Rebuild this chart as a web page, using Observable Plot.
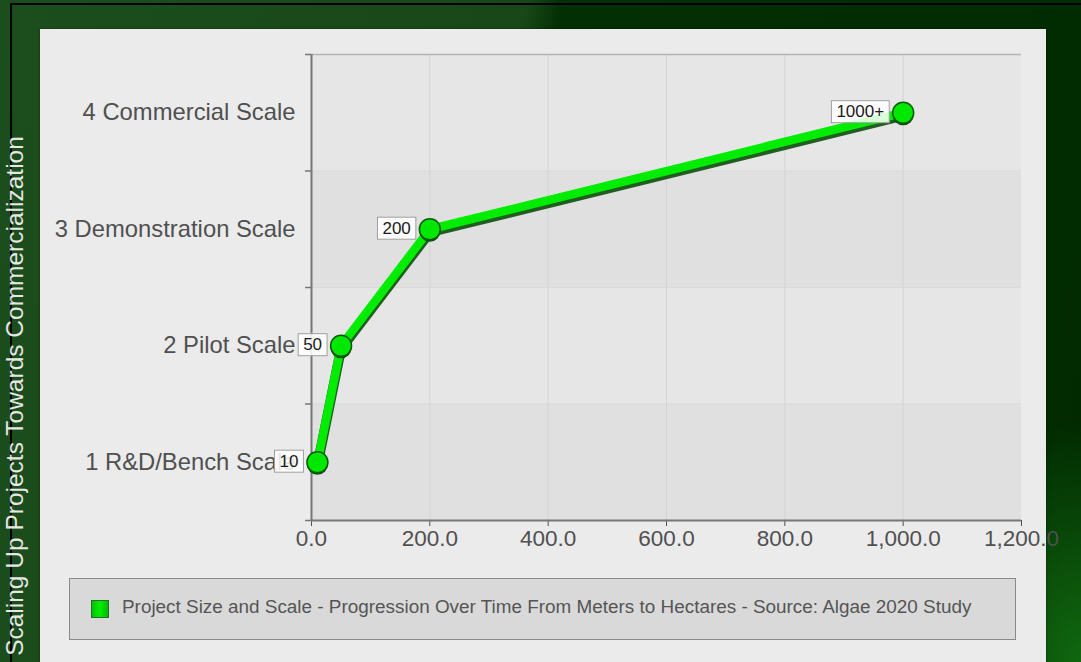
<!DOCTYPE html>
<html>
<head>
<meta charset="utf-8">
<script src="https://cdn.jsdelivr.net/npm/d3@7"></script>
<script src="https://cdn.jsdelivr.net/npm/@observablehq/plot@0.6"></script>
<style>
  html, body { margin: 0; padding: 0; }
  body {
    width: 1081px; height: 662px; overflow: hidden; position: relative;
    font-family: "Liberation Sans", Arial, sans-serif;
    background:
      radial-gradient(ellipse 160px 240px at 1081px 662px, rgba(20,120,20,0.8), rgba(20,120,20,0) 100%),
      linear-gradient(100deg, #1c4d1c 0%, #184818 44%, #033003 47%, #012a01 100%);
  }
  #frameTop { position: absolute; left: 11px; top: 3px; width: 1070px; height: 0; border-top: 2px solid #000; }
  #frameLeft { position: absolute; left: 10px; top: 3px; width: 0; height: 659px; border-left: 2px solid #000; }
  #panel {
    position: absolute; left: 40px; top: 29px; width: 1006px; height: 660px;
    background: #ebebeb; box-shadow: 0 0 2px rgba(0,0,0,0.5);
  }
  #chart { position: absolute; left: 40px; top: 29px; }
  #chart svg { overflow: visible; display: block; }
  #ytitle {
    position: absolute; left: 15px; top: 396px; width: 700px; height: 28px;
    margin-left: -350px; margin-top: -14px;
    transform-origin: 350px 14px; transform: rotate(-90deg);
    text-align: center; color: #e6e6e6; font-size: 24.5px; line-height: 28px; white-space: nowrap;
  }
  #legend {
    position: absolute; left: 69px; top: 578px; width: 947px; height: 62px;
    background: #d9d9d9; border: 1.5px solid #8a8a8a; box-sizing: border-box;
  }
  #legend .sw {
    position: absolute; left: 21px; top: 21px; width: 18px; height: 18px;
    background: linear-gradient(90deg, #00c000, #00f000 50%, #00b800);
    border: 1px solid #2a6a2a; box-sizing: border-box;
  }
  #legend .lt {
    position: absolute; left: 52px; top: 17px; font-size: 18.9px; color: #555; white-space: nowrap;
  }
</style>
</head>
<body>
<div id="frameTop"></div>
<div id="frameLeft"></div>
<div id="panel"></div>
<div id="ytitle"></div>
<div id="chart"></div>
<div id="legend"><div class="sw"></div><div class="lt" id="legendText"></div></div>
<script>
// ---- data ----
const stages = ["1 R&D/Bench Scale", "2 Pilot Scale", "3 Demonstration Scale", "4 Commercial Scale"];
const levels = [1, 2, 3, 4];
const sizes = [10, 50, 200, 1000];
const sizeLabels = ["10", "50", "200", "1000+"];
const xTicks = [0, 200, 400, 600, 800, 1000, 1200];
const seriesName = "Project Size and Scale - Progression Over Time From Meters to Hectares - Source: Algae 2020 Study";
const axisTitle = "Scaling Up Projects Towards Commercialization";

// ---- derived table ----
const points = levels.map((lv, i) => ({level: lv, size: sizes[i], label: sizeLabels[i]}));
const xDomain = d3.extent(xTicks);
const yDomain = [levels[0] - 0.5, levels[levels.length - 1] + 0.5];
const boundaries = d3.range(yDomain[0], yDomain[1] + 0.01, 1);

document.getElementById("legendText").textContent = seriesName;
document.getElementById("ytitle").textContent = axisTitle;

const chart = Plot.plot({
  width: 1006,
  height: 550,
  marginLeft: 271,
  marginRight: 25,
  marginTop: 25,
  marginBottom: 59,
  style: {
    fontSize: "22.5px",
    fontFamily: "'Liberation Sans', Arial, sans-serif",
    color: "#505050",
    background: "transparent",
    overflow: "visible"
  },
  x: {
    domain: xDomain,
    ticks: xTicks,
    tickFormat: d3.format(",.1f"),
    tickSize: 6,
    tickPadding: 4,
    label: null
  },
  y: {
    domain: yDomain,
    ticks: levels,
    tickFormat: d => stages[d - 1],
    tickSize: 0,
    tickPadding: 16,
    label: null
  },
  marks: [
    Plot.rect(levels, {
      x1: xDomain[0], x2: xDomain[1],
      y1: d => d - 0.5, y2: d => d + 0.5,
      fill: d => (d % 2 ? "#e0e0e0" : "#e6e6e6")
    }),
    Plot.ruleX(xTicks.slice(1, -1), {stroke: "#d4d4d4", strokeWidth: 1}),
    Plot.ruleY(boundaries.slice(1, -1), {stroke: "#d9d9d9", strokeWidth: 1}),
    Plot.ruleY([yDomain[1]], {stroke: "#b5b5b5", strokeWidth: 1.5}),
    Plot.ruleY(boundaries, {x1: xDomain[0], x2: xDomain[0], insetLeft: -6, stroke: "#777", strokeWidth: 1.5}),
    Plot.ruleX([xDomain[0]], {stroke: "#777", strokeWidth: 2}),
    Plot.ruleY([yDomain[0]], {stroke: "#777", strokeWidth: 2}),
    Plot.line(points, {x: "size", y: "level", dy: 3, stroke: "#0c4f0c", strokeWidth: 10, strokeOpacity: 0.9}),
    Plot.line(points, {x: "size", y: "level", stroke: "#00ec00", strokeWidth: 8.5}),
    Plot.dot(points, {x: "size", y: "level", dy: 2, r: 10.5, fill: "#0c4f0c", stroke: "none"}),
    Plot.dot(points, {x: "size", y: "level", r: 10.5, fill: "#00e800", stroke: "#0d5a0d", strokeWidth: 1.5}),
    Plot.text(points, {
      x: "size", y: "level", text: "label",
      textAnchor: "end", dx: -19, dy: -1,
      fontSize: 17, fill: "#1a1a1a"
    })
  ]
});

document.getElementById("chart").appendChild(chart);

chart.querySelectorAll("text").forEach(t => {
  if (stages.includes(t.textContent)) t.setAttribute("font-size", "23.8px");
});

chart.querySelectorAll("text").forEach(t => {
  if (!sizeLabels.includes(t.textContent)) return;
  const b = t.getBBox();
  const r = document.createElementNS("http://www.w3.org/2000/svg", "rect");
  r.setAttribute("x", b.x - 5);
  r.setAttribute("y", b.y - 1.5);
  r.setAttribute("width", b.width + 10);
  r.setAttribute("height", b.height + 3);
  r.setAttribute("fill", "#ffffff");
  r.setAttribute("fill-opacity", "0.85");
  r.setAttribute("stroke", "#a0a0a0");
  r.setAttribute("stroke-width", "1");
  if (t.getAttribute("transform")) r.setAttribute("transform", t.getAttribute("transform"));
  t.parentNode.insertBefore(r, t);
});
</script>
</body>
</html>
